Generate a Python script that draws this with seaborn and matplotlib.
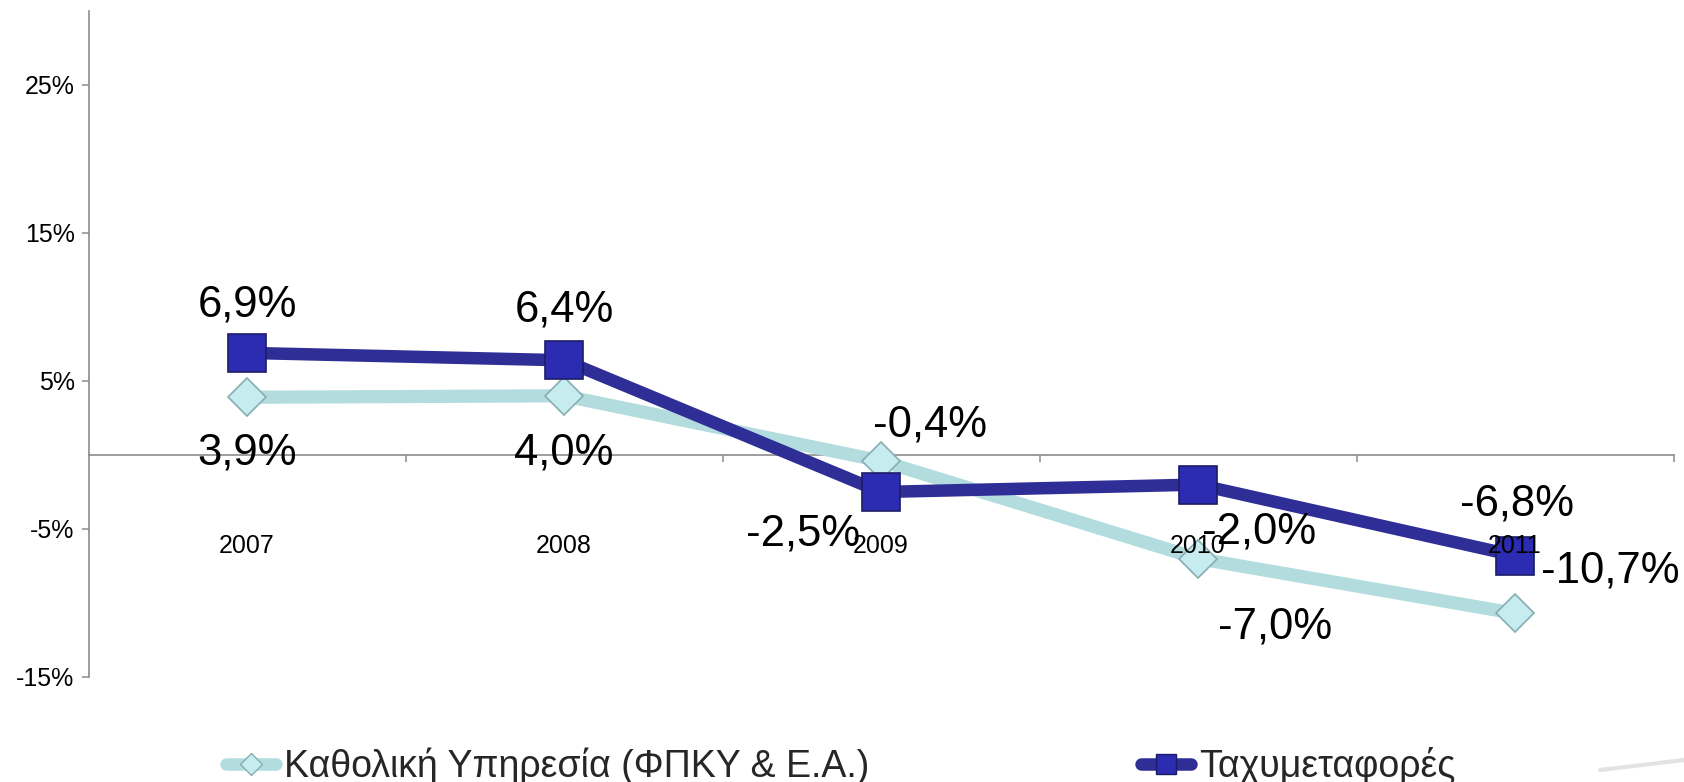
import numpy as np
import pandas as pd
import matplotlib
matplotlib.use("Agg")
import matplotlib.pyplot as plt
import seaborn as sns
from matplotlib.lines import Line2D

# ---- data ----
years = ["2007", "2008", "2009", "2010", "2011"]
universal_service = [3.9, 4.0, -0.4, -7.0, -10.7]
courier = [6.9, 6.4, -2.5, -2.0, -6.8]
series_names = ["Καθολική Υπηρεσία (ΦΠΚΥ & Ε.Α.)", "Ταχυμεταφορές"]
y_ticks = [-15, -5, 5, 15, 25]
y_tick_labels = ["-15%", "-5%", "5%", "15%", "25%"]

# label offsets (pixels, screen: +x right, +y down)
universal_offsets = [(0, 56), (0, 57), (49, -36), (77, 68), (95, -42)]
courier_offsets = [(0, -48), (0, -50), (-78, 42), (61, 47), (2, -52)]

light_line = "#b3dcde"
light_face = "#c6ecef"
light_edge = "#86aeb2"
dark_line = "#2f2e96"
dark_face = "#2c2cb2"
dark_edge = "#1c1c66"
axis_gray = "#8c8c8c"

sns.set_theme(style="white")
plt.rcParams["font.family"] = ["Liberation Sans", "DejaVu Sans"]

fig = plt.figure(figsize=(16.84, 7.82), dpi=100)
ax = fig.add_axes([88.5 / 1684, 1 - 677 / 782, 1585 / 1684, (677 - 11) / 782])

pos = list(range(len(years)))
df_u = pd.DataFrame({"pos": pos, "value": universal_service})
df_c = pd.DataFrame({"pos": pos, "value": courier})

sns.lineplot(data=df_u, x="pos", y="value", ax=ax, color=light_line, lw=9.5,
             marker="D", markersize=19, markerfacecolor=light_face,
             markeredgecolor=light_edge, markeredgewidth=1.2, zorder=3, sort=False)
sns.lineplot(data=df_c, x="pos", y="value", ax=ax, color=dark_line, lw=9,
             marker="s", markersize=27, markerfacecolor=dark_face,
             markeredgecolor=dark_edge, markeredgewidth=1.2, zorder=4, sort=False)

def fmt(v):
    return f"{v:.1f}%".replace(".", ",")

for i, v in enumerate(universal_service):
    dx, dy = universal_offsets[i]
    ax.annotate(fmt(v), (i, v), xytext=(dx * 0.72, -dy * 0.72), textcoords="offset points",
                ha="center", va="center", fontsize=31.5, color="black", zorder=6)
for i, v in enumerate(courier):
    dx, dy = courier_offsets[i]
    ax.annotate(fmt(v), (i, v), xytext=(dx * 0.72, -dy * 0.72), textcoords="offset points",
                ha="center", va="center", fontsize=31.5, color="black", zorder=6)

ax.set_xlim(-0.5, len(years) - 0.5)
ax.set_ylim(-15, 30)
ax.set_xlabel("")
ax.set_ylabel("")

ax.set_yticks(y_ticks)
ax.set_yticklabels(y_tick_labels)
ax.tick_params(axis="y", length=5, width=1.1, color=axis_gray, direction="out",
               pad=5, labelsize=18, labelcolor="black", left=True)

ax.spines["bottom"].set_position(("data", 0))
ax.set_xticks(pos)
ax.set_xticklabels(years)
ax.tick_params(axis="x", which="major", length=0, pad=57, labelsize=18, labelcolor="black")
ax.set_xticks([p + 0.5 for p in pos], minor=True)
ax.tick_params(axis="x", which="minor", length=5, width=1.1, color=axis_gray,
               direction="out", bottom=True)
ax.xaxis.set_zorder(5)  # year labels sit on top of the series like in the original

for s in ["top", "right"]:
    ax.spines[s].set_visible(False)
for s in ["left", "bottom"]:
    ax.spines[s].set_color(axis_gray)
    ax.spines[s].set_linewidth(1.2)
ax.grid(False)

# ---- legend (two entries placed like the original) ----
h1 = Line2D([], [], color=light_line, lw=9, solid_capstyle="round", marker="D",
            markersize=11, markerfacecolor=light_face, markeredgecolor=light_edge)
h2 = Line2D([], [], color=dark_line, lw=9, solid_capstyle="round", marker="s",
            markersize=14, markerfacecolor=dark_face, markeredgecolor=dark_edge)
common = dict(loc="center left", frameon=False, fontsize=27, borderpad=0,
              borderaxespad=0, handlelength=1.33, handletextpad=0.22, numpoints=1)
fig.legend([h1], [series_names[0]], bbox_to_anchor=(226 / 1684, 1 - 766 / 782), **common)
fig.legend([h2], [series_names[1]], bbox_to_anchor=(1141 / 1684, 1 - 766 / 782), **common)

# faint decorative stroke at the bottom right
fig.add_artist(Line2D([1600 / 1684, 1684 / 1684], [1 - 770 / 782, 1 - 760 / 782],
                      transform=fig.transFigure, color="#e3e3e3", lw=3))

fig.savefig("out.png", dpi=100)
